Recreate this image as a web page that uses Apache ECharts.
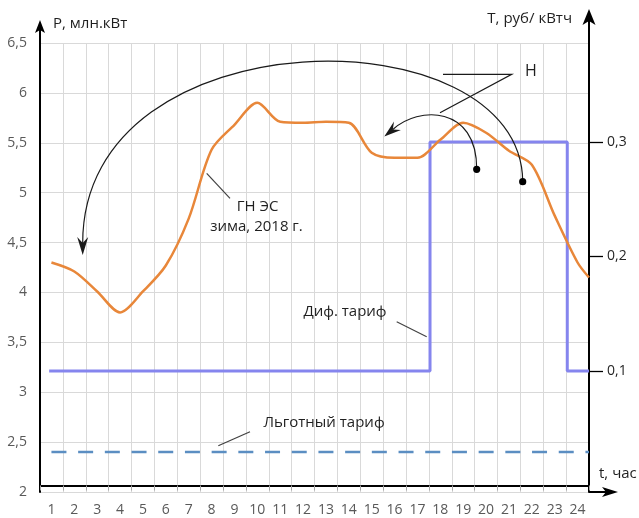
<!DOCTYPE html>
<html><head><meta charset="utf-8">
<script src="https://cdn.jsdelivr.net/npm/echarts@6/dist/echarts.min.js"></script>
<style>html,body{margin:0;padding:0;background:#fff}#c{width:639px;height:518px}</style>
</head><body><div id="c"></div>
<script>
// ---- data ----
const hours = ['1','2','3','4','5','6','7','8','9','10','11','12','13','14','15','16','17','18','19','20','21','22','23','24'];
const loadX = [1,2,3,4,5,6,7,8,9,10,11,12,13,14,15,16,17,18,19,20,21,22,23,24,24.5];
const loadP = [4.30,4.21,4.01,3.80,4.01,4.27,4.74,5.43,5.68,5.90,5.71,5.70,5.71,5.70,5.40,5.35,5.35,5.53,5.70,5.60,5.42,5.28,4.77,4.30,4.15];
const tariffX = [0.9, 17.55, 23.55, 24.5];
const tariffT = [0.1, 0.3, 0.1, 0.1];
const concessX = [1, 24.5];
const concessP = [2.4, 2.4];
const rightTicks = [0.1, 0.2, 0.3];

// ---- layout ----
const GL = 40, GR = 589, GT = 43, GB = 492;
const FONT = '"Open Sans", "Noto Sans", sans-serif';

const chart = echarts.init(document.getElementById('c'), null, {renderer: 'canvas'});

function comma(v){ return String(v).replace('.', ','); }
function arrowPts(tx, ty, dx, dy, len, hw, notch){
  const l = Math.hypot(dx, dy); dx /= l; dy /= l;
  const px = -dy, py = dx;
  const bx = tx - dx*len, by = ty - dy*len;
  return [[tx,ty],[bx+px*hw, by+py*hw],[tx-dx*notch, ty-dy*notch],[bx-px*hw, by-py*hw]];
}
function notchPt(tx, ty, dx, dy, notch){
  const l = Math.hypot(dx, dy); return [tx - dx/l*notch, ty - dy/l*notch];
}

const bigTip = [82.7, 255], bigDir = [0, 1];
const bigEnd = notchPt(bigTip[0], bigTip[1], bigDir[0], bigDir[1], 12);
const smTip = [384.3, 136.5], smDir = [-11.3, 9.2];
const smEnd = notchPt(smTip[0], smTip[1], smDir[0], smDir[1], 11);

const ink = '#1a1a1a';
const txt = '#1f1f1f';
function label(text, x, y, size, align){
  return {type:'text', style:{text:text, x:x, y:y, font:size+'px '+FONT, fill:txt,
    textAlign:align, textVerticalAlign:'middle', align:align, verticalAlign:'middle'}};
}
const graphics = [
  // axis extensions + arrowheads
  {type:'line', shape:{x1:GL,y1:GT,x2:GL,y2:28}, style:{stroke:'#000', lineWidth:2}},
  {type:'polygon', shape:{points:arrowPts(GL,20,0,-1,13,5,10)}, style:{fill:'#000'}},
  {type:'line', shape:{x1:GR,y1:GT,x2:GR,y2:20}, style:{stroke:'#000', lineWidth:2}},
  {type:'polygon', shape:{points:arrowPts(GR,9,0,-1,16,6.5,12)}, style:{fill:'#000'}},
  {type:'line', shape:{x1:GR,y1:GB,x2:608,y2:GB}, style:{stroke:'#000', lineWidth:2}},
  {type:'polygon', shape:{points:arrowPts(618,GB,1,0,16,5,12)}, style:{fill:'#000'}},
  // axis names
  label('P, млн.кВт', 53, 24, 15, 'left'),
  label('T, руб/ кВтч', 572, 19, 15, 'right'),
  label('t, час', 599, 474, 15, 'left'),
  // big arc
  {type:'bezierCurve', shape:{x1:522.7,y1:181.7,cpx1:522,cpy1:12,cpx2:82.7,cpy2:12,x2:bigEnd[0],y2:bigEnd[1]}, style:{stroke:ink, lineWidth:1.2, fill:null}},
  {type:'polygon', shape:{points:arrowPts(bigTip[0],bigTip[1],bigDir[0],bigDir[1],18,5.5,12)}, style:{fill:ink}},
  {type:'circle', shape:{cx:522.7, cy:181.7, r:3.6}, style:{fill:'#000'}},
  // small arc
  {type:'bezierCurve', shape:{x1:476.7,y1:169.3,cpx1:477,cpy1:105,cpx2:418,cpy2:106,x2:smEnd[0],y2:smEnd[1]}, style:{stroke:ink, lineWidth:1.2, fill:null}},
  {type:'polygon', shape:{points:arrowPts(smTip[0],smTip[1],smDir[0],smDir[1],17,5.5,11)}, style:{fill:ink}},
  {type:'circle', shape:{cx:476.7, cy:169.3, r:3.6}, style:{fill:'#000'}},
  // H label with leaders
  {type:'polyline', shape:{points:[[443,74.3],[511.7,74.3],[440,112.7]]}, style:{stroke:ink, lineWidth:1.2, fill:null}},
  label('Н', 525, 71, 16, 'left'),
  // ГН ЭС label
  {type:'line', shape:{x1:206.7,y1:173.3,x2:230,y2:198.3}, style:{stroke:'#404040', lineWidth:1.2}},
  label('ГН ЭС', 257.5, 207, 15, 'center'),
  label('зима, 2018 г.', 256.5, 227, 15, 'center'),
  // Диф. тариф
  {type:'line', shape:{x1:396.7,y1:321.7,x2:426.7,y2:336.7}, style:{stroke:'#404040', lineWidth:1.2}},
  label('Диф. тариф', 345, 311.5, 15, 'center'),
  // Льготный тариф
  {type:'line', shape:{x1:250,y1:431.7,x2:218.3,y2:445.7}, style:{stroke:'#404040', lineWidth:1.2}},
  label('Льготный тариф', 324, 423, 15, 'center')
].map(g => Object.assign({z: 100}, g));

chart.setOption({
  animation: false,
  backgroundColor: '#fff',
  textStyle: {fontFamily: FONT},
  grid: {left: GL, right: 639 - GR, top: GT, bottom: 518 - GB, containLabel: false},
  xAxis: [
    {type:'category', data: hours, boundaryGap: true, position:'bottom',
     axisLine:{show:true, lineStyle:{color:'#000', width:2}},
     axisTick:{show:true, interval:0, length:5, lineStyle:{color:'#a6a6a6'}},
     axisLabel:{interval:0, color:'#595959', fontSize:14, margin:11, fontFamily:FONT},
     splitLine:{show:true, interval:0, lineStyle:{color:'#d9d9d9', width:1}}},
    {type:'value', min:0.5, max:24.5, show:false}
  ],
  yAxis: [
    {type:'value', min:2, max:6.5, interval:0.5, position:'left',
     axisLine:{show:true, lineStyle:{color:'#000', width:2}},
     axisTick:{show:false},
     axisLabel:{color:'#595959', fontSize:14, margin:13, fontFamily:FONT, formatter: comma},
     splitLine:{show:true, lineStyle:{color:'#d9d9d9', width:1}}},
    {type:'value', min:-0.0057, max:0.3865, position:'right',
     axisLine:{show:true, lineStyle:{color:'#000', width:2}},
     axisTick:{show:true, customValues: rightTicks, length:14, lineStyle:{color:'#000', width:1.3}},
     axisLabel:{customValues: rightTicks, color:'#262626', fontSize:14, margin:18, fontFamily:FONT, formatter: comma},
     splitLine:{show:false}}
  ],
  series: [
    {name:'Льготный тариф', type:'line', xAxisIndex:1, yAxisIndex:0,
     data: concessX.map((x,i)=>[x, concessP[i]]), showSymbol:false, symbol:'none',
     lineStyle:{color:'#5b8ec2', width:2.5, type:[15,11.7]}, z:3},
    {name:'Диф. тариф', type:'line', xAxisIndex:1, yAxisIndex:1, step:'end',
     data: tariffX.map((x,i)=>[x, tariffT[i]]), showSymbol:false, symbol:'none',
     lineStyle:{color:'#8585ee', width:3}, z:4},
    {name:'ГН ЭС зима, 2018 г.', type:'line', xAxisIndex:1, yAxisIndex:0, smooth:0.3,
     data: loadX.map((x,i)=>[x, loadP[i]]), showSymbol:false, symbol:'none',
     lineStyle:{color:'#e8873a', width:2.5}, z:5}
  ],
  graphic: graphics
});
</script>
</body></html>
